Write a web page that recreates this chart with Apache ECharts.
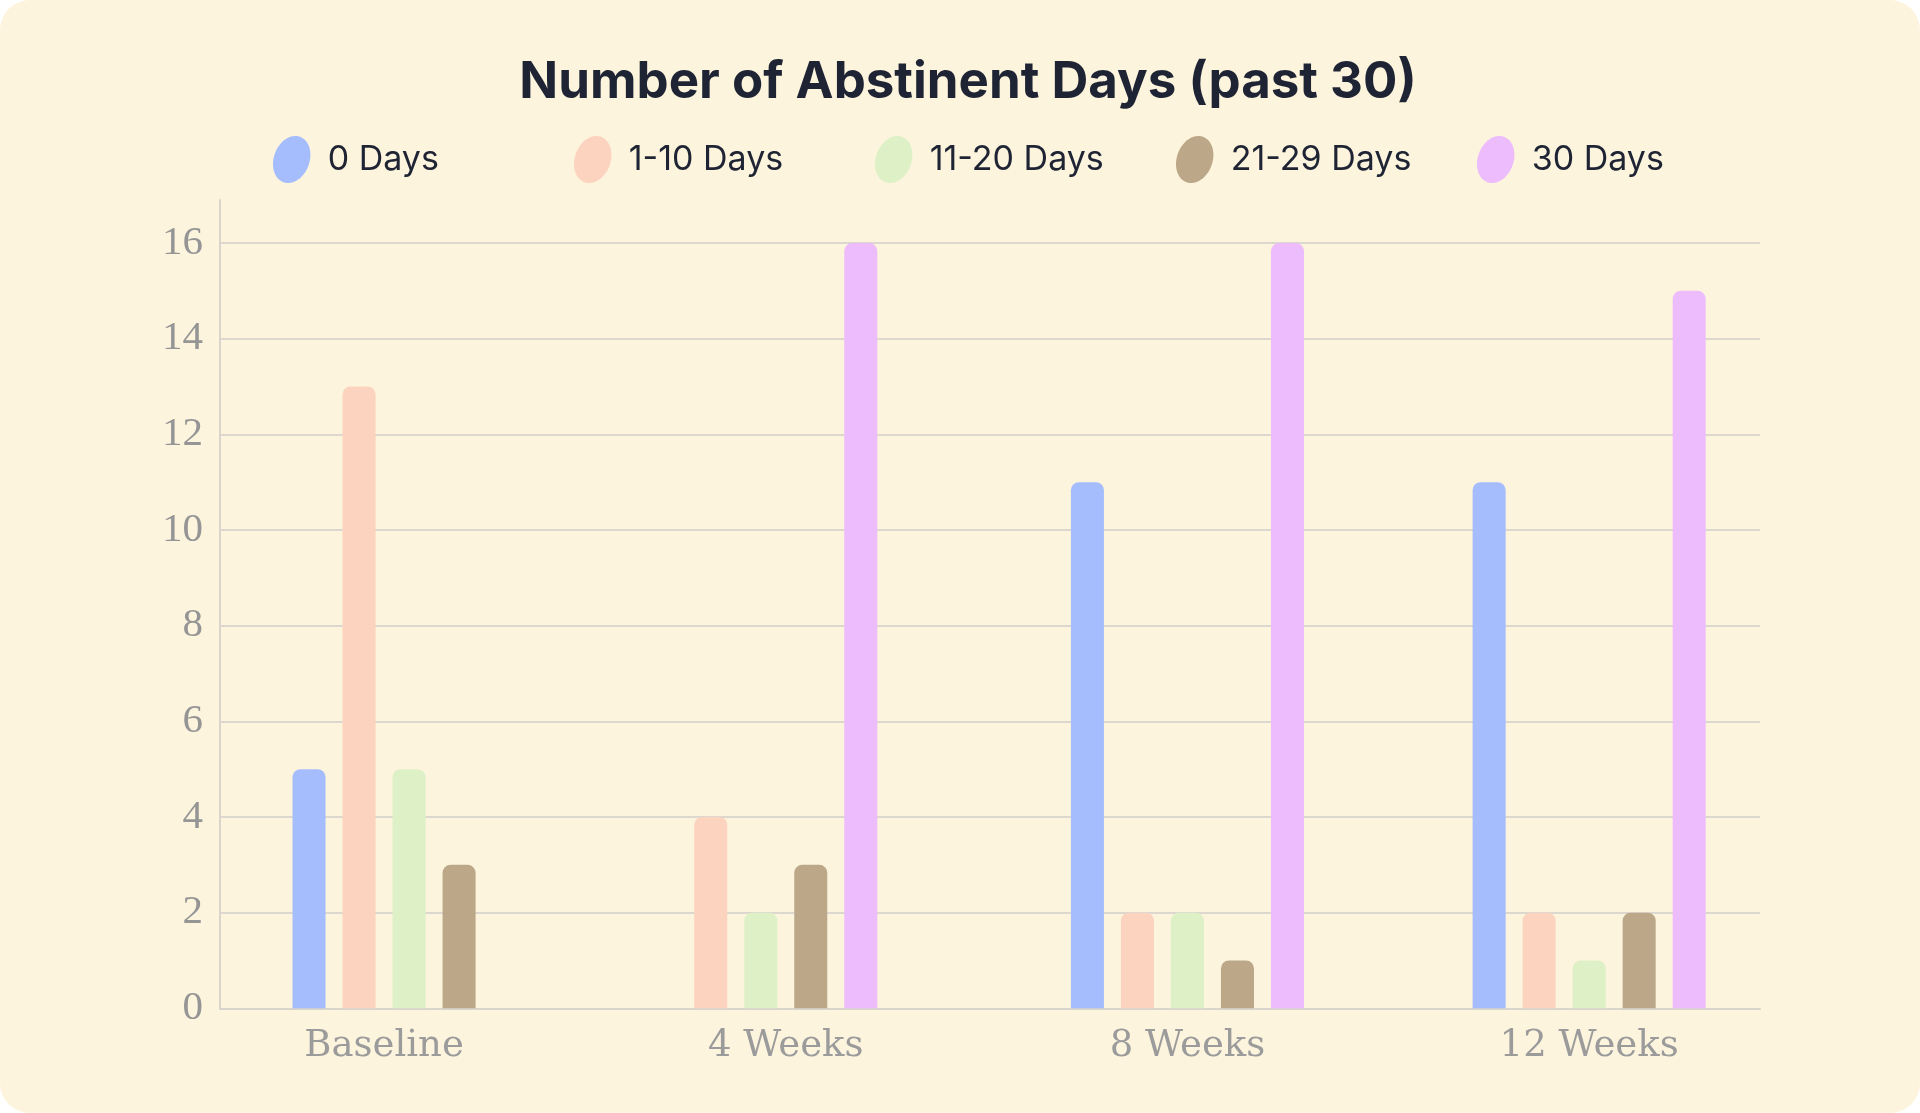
<!DOCTYPE html>
<html>
<head>
<meta charset="utf-8">
<script src="https://cdn.jsdelivr.net/npm/echarts@6/dist/echarts.min.js"></script>
<style>
  html, body { margin: 0; padding: 0; background: #ffffff; }
  #chart { width: 1920px; height: 1113px; background: #fdf4dd; border-radius: 30px; overflow: hidden; }
</style>
</head>
<body>
<div id="chart"></div>
<script>
const categories = ['Baseline', '4 Weeks', '8 Weeks', '12 Weeks'];
const seriesNames = ['0 Days', '1-10 Days', '11-20 Days', '21-29 Days', '30 Days'];
const days0 = [5, null, 11, 11];
const days1to10 = [13, 4, 2, 2];
const days11to20 = [5, 2, 2, 1];
const days21to29 = [3, 3, 1, 2];
const days30 = [null, 16, 16, 15];
const yTicks = [0, 2, 4, 6, 8, 10, 12, 14, 16];
const colors = ['#a5bdfd', '#fcd3bf', '#def0c5', '#bca888', '#ecbcfd'];

const allValues = [days0, days1to10, days11to20, days21to29, days30];

// tilted ellipse icon path
function ellipsePath() {
  const rx = 17, ry = 23, th = 20 * Math.PI / 180;
  const pts = [];
  for (let i = 0; i < 64; i++) {
    const t = i / 64 * Math.PI * 2;
    const x = rx * Math.cos(t), y = ry * Math.sin(t);
    const xr = x * Math.cos(th) - y * Math.sin(th) + 30;
    const yr = x * Math.sin(th) + y * Math.cos(th) + 30;
    pts.push((i === 0 ? 'M' : 'L') + xr.toFixed(2) + ',' + yr.toFixed(2));
  }
  return 'path://' + pts.join(' ') + ' Z';
}
const icon = ellipsePath();

const legendLefts = [273, 574, 875, 1176, 1477];
const legends = seriesNames.map((n, i) => ({
  left: legendLefts[i], top: 136, padding: 0,
  itemWidth: 40, itemHeight: 47,
  icon: icon,
  selectedMode: false,
  textStyle: { fontFamily: 'Inter', fontSize: 34, color: '#1e2433', padding: [0, 0, 0, 11] },
  data: [{ name: n, icon: icon }]
}));

function makeRender(si) {
  return function (params, api) {
    const i = api.value(0);
    const v = api.value(1);
    if (v == null || isNaN(v)) return null;
    const present = [];
    for (let j = 0; j < allValues.length; j++) {
      if (allValues[j][i] != null) present.push(j);
    }
    const n = present.length;
    const k = present.indexOf(si);
    const band = api.size([1, 0])[0];
    const step = band * 0.1245;
    const w = band * 0.0822;
    const base = api.coord([i, 0]);
    const top = api.coord([i, v]);
    const cx = base[0] + (k - (n - 1) / 2) * step;
    return {
      type: 'rect',
      shape: { x: cx - w / 2, y: top[1], width: w, height: base[1] - top[1], r: [8, 8, 0, 0] },
      style: { fill: colors[si] }
    };
  };
}

const yMax = 16.9;

const option = {
  animation: false,
  title: {
    text: 'Number of Abstinent Days (past 30)',
    left: 968, top: 57, padding: 0, textAlign: 'center',
    textStyle: { fontFamily: 'Inter', fontWeight: 700, fontSize: 51, color: '#1e2433' }
  },
  legend: legends,
  grid: [
    { left: 220, right: 160, top: 200, bottom: 104.7, containLabel: false },
    { left: 183.2, right: 130, top: 200, bottom: 104.7, containLabel: false }
  ],
  xAxis: [
    {
      gridIndex: 0, type: 'category', data: categories,
      axisLine: { show: true, lineStyle: { color: '#d9d5cc', width: 2 } },
      axisTick: { show: false }, axisLabel: { show: false }, splitLine: { show: false }
    },
    {
      gridIndex: 1, type: 'category', data: categories,
      axisLine: { show: false }, axisTick: { show: false },
      axisLabel: { fontFamily: 'DejaVu Serif', fontSize: 37, color: '#9b9b9b', margin: 20 }
    }
  ],
  yAxis: [
    {
      gridIndex: 0, type: 'value', min: yTicks[0], max: yMax, interval: 2,
      axisLine: { show: true, lineStyle: { color: '#d9d5cc', width: 2 } },
      axisTick: { show: false },
      axisLabel: { fontFamily: 'Liberation Serif', fontSize: 41, color: '#959595', margin: 17, showMaxLabel: false },
      splitLine: { show: true, showMaxLine: false, showMinLine: false, lineStyle: { color: '#dcd8cf', width: 2 } }
    },
    {
      gridIndex: 1, type: 'value', min: yTicks[0], max: yMax, show: false
    }
  ],
  series: seriesNames.map((name, si) => ({
    name: name,
    type: 'custom',
    xAxisIndex: 1, yAxisIndex: 1,
    itemStyle: { color: colors[si] },
    encode: { x: 0, y: 1 },
    renderItem: makeRender(si),
    data: allValues[si].map((v, i) => [i, v == null ? '-' : v])
  }))
};

const chart = echarts.init(document.getElementById('chart'));
chart.setOption(option);
</script>
</body>
</html>
